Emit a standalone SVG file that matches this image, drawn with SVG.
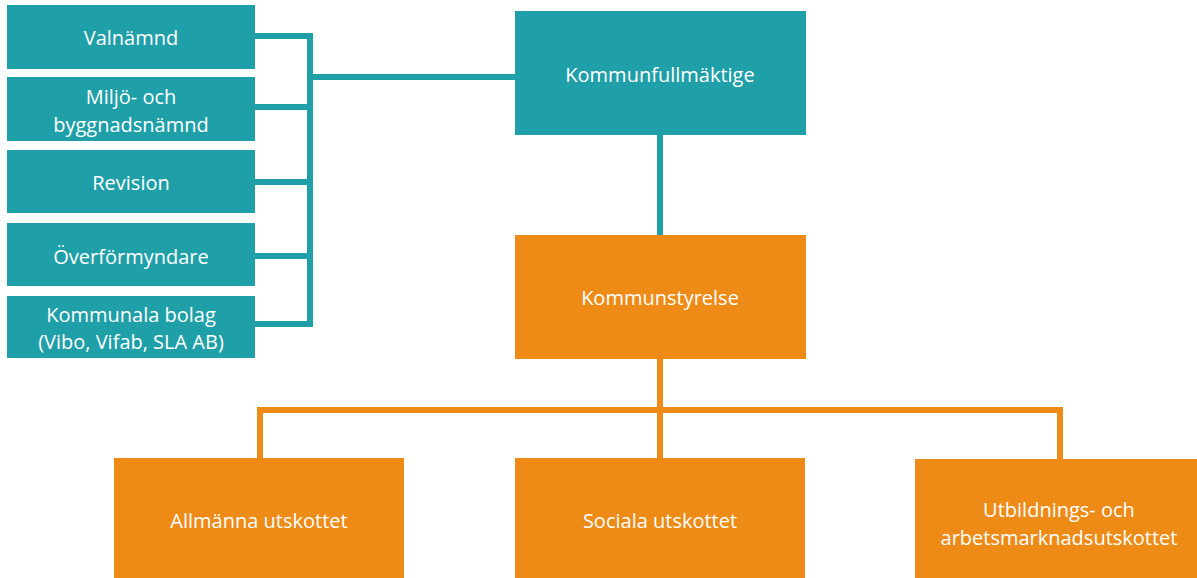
<svg xmlns="http://www.w3.org/2000/svg" width="1197" height="578" viewBox="0 0 1197 578">
<style>
.teal{fill:#1fa0a8}
.orange{fill:#ee8b17}
.lt{stroke:#1fa0a8;stroke-width:6;fill:none}
.lo{stroke:#ee8b17;stroke-width:6;fill:none}
text{font-family:"Open Sans","Liberation Sans",sans-serif;font-size:20px;fill:#ffffff;text-anchor:middle}
</style>
<rect width="1197" height="578" fill="#ffffff"/>
<g id="connectors">
<path class="lt" d="M255 36H310M255 107H310M255 182H310M255 256H310M255 324H310M310 33V327M310 77H515"/>
<path class="lt" d="M660 135V235"/>
<path class="lo" d="M660 359V458M257 410H1063M260 407V458M1060 407V459"/>
</g>
<g id="valnamnd"><rect class="teal" x="7" y="5" width="248" height="64"/><text x="131" y="45">Valnämnd</text></g>
<g id="miljo"><rect class="teal" x="7" y="77" width="248" height="64"/><text x="131" y="104">Miljö- och</text><text x="131" y="132">byggnadsnämnd</text></g>
<g id="revision"><rect class="teal" x="7" y="150" width="248" height="63"/><text x="131" y="190">Revision</text></g>
<g id="overformyndare"><rect class="teal" x="7" y="223" width="248" height="63"/><text x="131" y="264">Överförmyndare</text></g>
<g id="bolag"><rect class="teal" x="7" y="296" width="248" height="62"/><text x="131" y="322">Kommunala bolag</text><text x="131" y="349">(Vibo, Vifab, SLA AB)</text></g>
<g id="kommunfullmaktige"><rect class="teal" x="515" y="11" width="291" height="124"/><text x="660" y="82">Kommunfullmäktige</text></g>
<g id="kommunstyrelse"><rect class="orange" x="515" y="235" width="291" height="124"/><text x="660" y="305">Kommunstyrelse</text></g>
<g id="allmanna"><rect class="orange" x="114" y="458" width="290" height="120"/><text x="259" y="528">Allmänna utskottet</text></g>
<g id="sociala"><rect class="orange" x="515" y="458" width="290" height="120"/><text x="660" y="528">Sociala utskottet</text></g>
<g id="utbildning"><rect class="orange" x="915" y="459" width="282" height="119"/><text x="1059" y="517">Utbildnings- och</text><text x="1059" y="545">arbetsmarknadsutskottet</text></g>
</svg>
